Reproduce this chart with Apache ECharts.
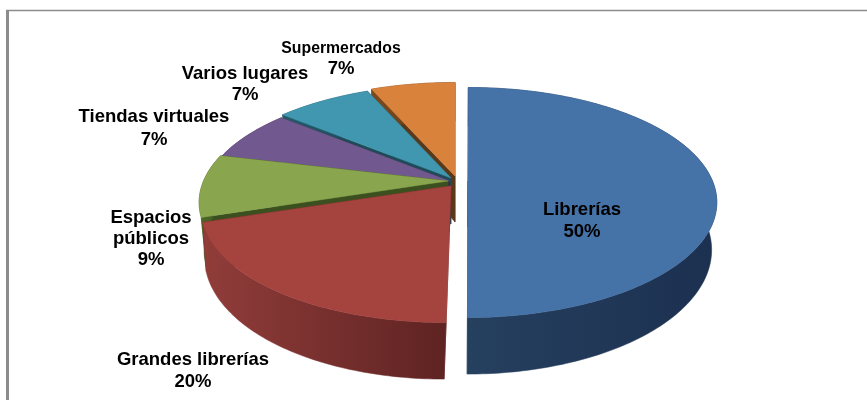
<!DOCTYPE html>
<html><head><meta charset="utf-8">
<style>html,body{margin:0;padding:0;background:#fff}#c{width:867px;height:400px}</style>
<script src="https://cdn.jsdelivr.net/npm/echarts@6/dist/echarts.min.js"></script>
</head><body><div id="c"></div>
<script>
var categories = ['Librerías','Grandes librerías','Espacios públicos','Tiendas virtuales','Varios lugares','Supermercados'];
var values = [50,20,8.8,7.2,7.45,6.55];
var labelLines = [['Librerías'],['Grandes librerías'],['Espacios','públicos'],['Tiendas virtuales'],['Varios lugares'],['Supermercados']];

var topColors = ['#4572a7','#a5433f','#89a54e','#71588f','#4097af','#d9823c'];
var wallLeft  = ['#26405f','#913d3a','#4f6a28','#46365b','#235a6a','#7a4a1f'];
var wallRight = ['#1c3050','#5e2322','#3d5220','#38294a','#1f4a58','#59391a'];
var sideColors= ['#223a58','#6a2a28','#3b4f1f','#38294a','#1f4a58','#59391a'];
var apexX = [468,451,448,449.5,451,455];
var apexY = [181,186,181,181,178,176];
var slant = [-0.004,-0.036,0,0,0,0];
var labelX = [582,193,151,154,245,341];
var labelY = [[210,232],[360,382],[218,239,260],[117,140],[74,95],[49,69]];
var labelSize = [18.5,18.5,18.5,18.5,18.5,15.8];
var pctSize = [18.5,18.5,18.5,18.5,18.5,18.5];

var R=244.5,K=0.454,P=0.187,WALL=46,BOTTOM_X=0.98;
var total = values.reduce(function(a,b){return a+b;},0);

function project(i,u,v,bottom){
  var s=1/(1-P*v);
  var x=R*u*s, y=R*K*v*s;
  if(bottom){ x*=BOTTOM_X; y+=WALL*s; }
  x+=slant[i]*y;
  return [apexX[i]+x,apexY[i]+y];
}
function renderSlice(params,api){
  var i=api.value(0), acc=0;
  for(var j=0;j<i;j++) acc+=values[j];
  var a0=acc/total*2*Math.PI, a1=(acc+values[i])/total*2*Math.PI;
  var rimT=[],rimB=[],n=Math.max(8,Math.round((a1-a0)*180/Math.PI));
  for(var k=0;k<=n;k++){
    var a=a0+(a1-a0)*k/n, u=Math.sin(a), v=-Math.cos(a);
    rimT.push(project(i,u,v,false)); rimB.push(project(i,u,v,true));
  }
  var cT=project(i,0,0,false), cB=project(i,0,0,true);
  var children=[];
  function poly(pts,fill){
    children.push({type:'polygon',shape:{points:pts},style:{fill:fill,stroke:fill,lineWidth:0.5}});
  }
  poly([cT,rimT[0],rimB[0],cB],sideColors[i]);
  poly([cT,rimT[n],rimB[n],cB],sideColors[i]);
  poly(rimT.concat(rimB.slice().reverse()),{type:'linear',x:0,y:0,x2:1,y2:0,colorStops:[{offset:0,color:wallLeft[i]},{offset:1,color:wallRight[i]}]});
  poly([cT].concat(rimT),topColors[i]);
  var lines=labelLines[i].concat([Math.round(values[i])+'%']);
  lines.forEach(function(t,li){
    var pct=li===lines.length-1;
    children.push({type:'text',z2:50,style:{text:t,x:labelX[i],y:labelY[i][li],align:'center',verticalAlign:'middle',
      fill:'#000',font:'bold '+(pct?pctSize[i]:labelSize[i])+'px "Liberation Sans", Arial, sans-serif'}});
  });
  return {type:'group',children:children};
}
var order=categories.map(function(c,i){return [i];}).reverse();
var chart=echarts.init(document.getElementById('c'),null,{renderer:'canvas'});
chart.setOption({
  animation:false,
  backgroundColor:'#fff',
  graphic:[
    {type:'line',shape:{x1:6,y1:10.5,x2:867,y2:10.5},style:{stroke:'#8c8c8c',lineWidth:1.5},z:-1},
    {type:'line',shape:{x1:7.5,y1:10,x2:7.5,y2:400},style:{stroke:'#8c8c8c',lineWidth:3},z:-1}
  ],
  series:[{type:'custom',coordinateSystem:'none',renderItem:renderSlice,data:order,silent:true,clip:false}]
});
</script></body></html>
